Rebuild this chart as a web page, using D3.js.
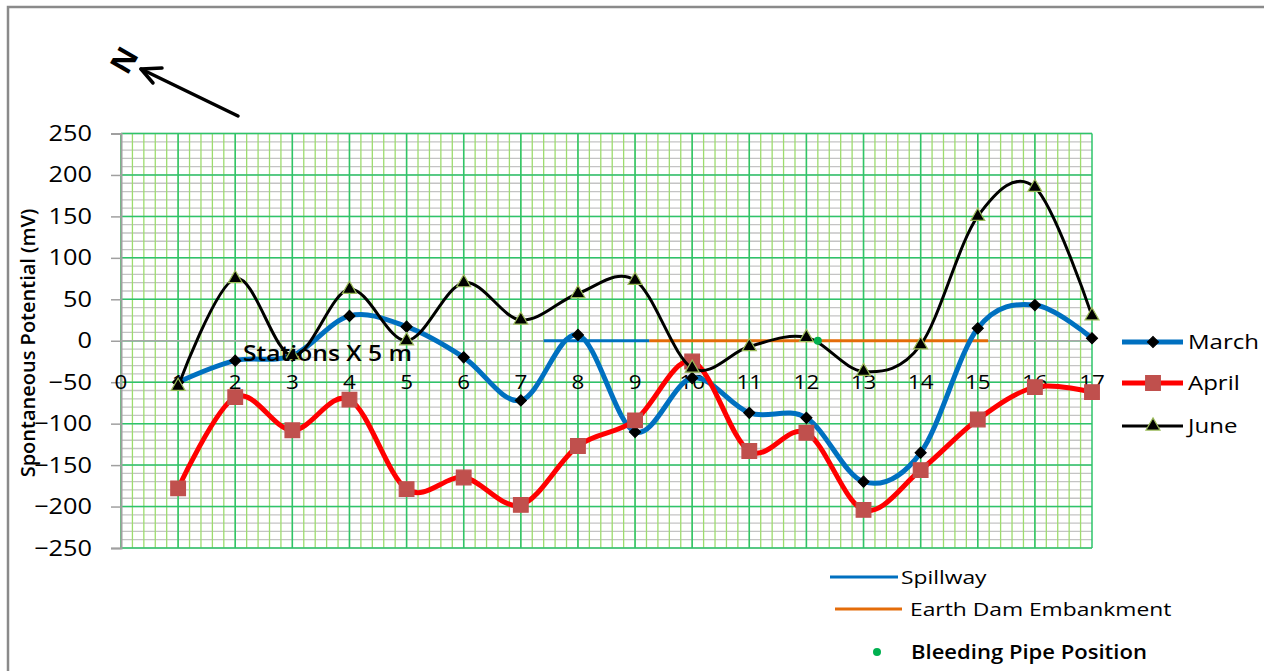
<!DOCTYPE html>
<html>
<head>
<meta charset="utf-8">
<script src="https://cdn.jsdelivr.net/npm/d3@7"></script>
<style>
  body { margin: 0; background: #fff; }
  text { font-family: "Open Sans", sans-serif; fill: #000; }
</style>
</head>
<body>
<svg width="1264" height="671"></svg>
<script>
// station numbers along the profile (x 5 m)
var stations = [1, 2, 3, 4, 5, 6, 7, 8, 9, 10, 11, 12, 13, 14, 15, 16, 17];
var xTicks = [0, 1, 2, 3, 4, 5, 6, 7, 8, 9, 10, 11, 12, 13, 14, 15, 16, 17];
var yTicks = [250, 200, 150, 100, 50, 0, -50, -100, -150, -200, -250];

// SP readings (mV)
var march = [-50, -24, -18, 30, 17, -20, -72, 7, -110, -45, -87, -93, -170, -135, 15, 43, 3];
var april = [-178, -68, -108, -71, -179, -165, -198, -127, -96, -25, -133, -111, -204, -156, -95, -56, -62];
var june  = [-55, 75, -18, 62, 0, 70, 25, 57, 73, -33, -7, 4, -37, -5, 150, 185, 30];

// structures along the line
var spillway = [7.4, 9.25];
var embankment = [9.25, 15.18];
var bleedingPipe = [12.2];

var svg = d3.select("svg");

// stretch text horizontally like the original (resized) picture
function stretch(sel, k) {
    sel.each(function() {
        var w = this.getComputedTextLength();
        d3.select(this).attr("textLength", w * k).attr("lengthAdjust", "spacingAndGlyphs");
    });
}

// outer frame
svg.append("rect")
    .attr("x", 8).attr("y", 7)
    .attr("width", 1400).attr("height", 800)
    .attr("fill", "none")
    .attr("stroke", "#8a8a8a")
    .attr("stroke-width", 2.5);

var x = d3.scaleLinear().domain([0, 17]).range([121, 1092]);
var y = d3.scaleLinear().domain([-250, 250]).range([548, 133.5]);

var grid = svg.append("g");

// minor horizontal (gray, every 10)
grid.append("g").selectAll("line")
    .data(d3.range(-250, 251, 10))
    .enter().append("line")
    .attr("x1", x(0)).attr("x2", x(17))
    .attr("y1", function(d) { return y(d); })
    .attr("y2", function(d) { return y(d); })
    .attr("stroke", "#c4c4c4").attr("stroke-width", 1.3);

// minor vertical (light green, every 0.2)
grid.append("g").selectAll("line")
    .data(d3.range(0, 85).map(function(i) { return i / 5; }))
    .enter().append("line")
    .attr("x1", function(d) { return x(d); })
    .attr("x2", function(d) { return x(d); })
    .attr("y1", y(250)).attr("y2", y(-250))
    .attr("stroke", "#9ddc6e").attr("stroke-width", 1.3);

// major horizontal
grid.append("g").selectAll("line")
    .data(yTicks)
    .enter().append("line")
    .attr("x1", x(0)).attr("x2", x(17))
    .attr("y1", function(d) { return y(d); })
    .attr("y2", function(d) { return y(d); })
    .attr("stroke", "#2ec46a").attr("stroke-width", 1.5);

// major vertical
grid.append("g").selectAll("line")
    .data(xTicks)
    .enter().append("line")
    .attr("x1", function(d) { return x(d); })
    .attr("x2", function(d) { return x(d); })
    .attr("y1", y(250)).attr("y2", y(-250))
    .attr("stroke", "#2ec46a").attr("stroke-width", 1.5);

// y axis
var yAxis = svg.append("g")
    .attr("transform", "translate(" + x(0) + ",0)")
    .call(d3.axisLeft(y).tickValues(yTicks).tickSize(10).tickPadding(8));
yAxis.select(".domain").attr("stroke", "#a0a0a0").attr("stroke-width", 2);
yAxis.selectAll(".tick line").attr("stroke", "#a0a0a0").attr("stroke-width", 1.5);
yAxis.selectAll(".tick text")
    .attr("x", 92 - x(0))
    .style("font-size", "22px")
    .style("font-family", "Open Sans, sans-serif")
    .attr("fill", "#000");
stretch(yAxis.selectAll(".tick text"), 1.15);

// x axis line at 0 (gray)
svg.append("line")
    .attr("x1", x(0)).attr("x2", x(17))
    .attr("y1", y(0)).attr("y2", y(0))
    .attr("stroke", "#a8a8a8").attr("stroke-width", 1.5);

// x tick labels
var xl = svg.append("g").selectAll("text")
    .data(xTicks)
    .enter().append("text")
    .attr("x", function(d) { return x(d); })
    .attr("y", y(-50))
    .attr("dy", "0.36em")
    .attr("text-anchor", "middle")
    .style("font-size", "20px")
    .text(function(d) { return d; });
stretch(xl, 1.12);

// structures
svg.append("line")
    .attr("x1", x(spillway[0])).attr("x2", x(spillway[1]))
    .attr("y1", y(0)).attr("y2", y(0))
    .attr("stroke", "#0070c0").attr("stroke-width", 3);
svg.append("line")
    .attr("x1", x(embankment[0])).attr("x2", x(embankment[1]))
    .attr("y1", y(0)).attr("y2", y(0))
    .attr("stroke", "#e46c0a").attr("stroke-width", 3);

// series
var series = [
    { name: "March", values: march, color: "#0070c0", width: 5, marker: d3.symbolSquare, size: 60, rot: 45, fill: "#000", stroke: "#000" },
    { name: "April", values: april, color: "#ff0000", width: 5, marker: d3.symbolSquare, size: 215, rot: 0, fill: "#c0504d", stroke: "#c0504d" },
    { name: "June",  values: june,  color: "#000000", width: 3, marker: d3.symbolTriangle, size: 85, rot: 0, fill: "#000", stroke: "#9bbb59" }
];

var line = d3.line()
    .x(function(d) { return x(d[0]); })
    .y(function(d) { return y(d[1]); })
    .curve(d3.curveCardinal.tension(0));

series.forEach(function(s) {
    var pts = stations.map(function(st, i) { return [st, s.values[i]]; });
    var g = svg.append("g");
    g.append("path")
        .attr("d", line(pts))
        .attr("fill", "none")
        .attr("stroke", s.color)
        .attr("stroke-width", s.width);
    g.selectAll("path.mk")
        .data(pts)
        .enter().append("path")
        .attr("class", "mk")
        .attr("d", d3.symbol().type(s.marker).size(s.size))
        .attr("transform", function(d) { return "translate(" + x(d[0]) + "," + y(d[1]) + ") rotate(" + s.rot + ")"; })
        .attr("fill", s.fill)
        .attr("stroke", s.stroke)
        .attr("stroke-width", 1.2);
});

// bleeding pipe
svg.selectAll("circle.pipe")
    .data(bleedingPipe)
    .enter().append("circle")
    .attr("class", "pipe")
    .attr("cx", function(d) { return x(d); })
    .attr("cy", y(0))
    .attr("r", 4)
    .attr("fill", "#00b050");

// axis titles
svg.append("text")
    .attr("transform", "translate(35," + 343 + ") rotate(-90)")
    .attr("text-anchor", "middle")
    .style("font-size", "20px")
    .style("font-weight", "600")
    .text("Spontaneous Potential (mV)");

stretch(svg.append("text")
    .attr("x", 243).attr("y", 361)
    .style("font-size", "22px")
    .style("font-weight", "600")
    .text("Stations X 5 m"), 1.12);

// north arrow
svg.append("line")
    .attr("x1", 238).attr("y1", 116)
    .attr("x2", 141).attr("y2", 69)
    .attr("stroke", "#000").attr("stroke-width", 3.5)
    .attr("stroke-linecap", "round");
svg.append("path")
    .attr("d", "M162,68 L141,69 L153,83")
    .attr("fill", "none")
    .attr("stroke", "#000").attr("stroke-width", 3.5)
    .attr("stroke-linecap", "round")
    .attr("stroke-linejoin", "round");
svg.append("text")
    .attr("transform", "translate(124,60) rotate(-60)")
    .attr("text-anchor", "middle")
    .attr("dy", "0.36em")
    .style("font-size", "30px")
    .style("font-weight", "bold")
    .text("N");

// right legend
var leg = svg.append("g");
series.forEach(function(s, i) {
    var ly = [342, 383, 426][i];
    leg.append("line")
        .attr("x1", 1122).attr("x2", 1183)
        .attr("y1", ly).attr("y2", ly)
        .attr("stroke", s.color).attr("stroke-width", s.width);
    leg.append("path")
        .attr("d", d3.symbol().type(s.marker).size(s.size))
        .attr("transform", "translate(1153," + ly + ") rotate(" + s.rot + ")")
        .attr("fill", s.fill).attr("stroke", s.stroke).attr("stroke-width", 1.2);
    var t = leg.append("text")
        .attr("x", 1188).attr("y", ly)
        .attr("dy", "0.36em")
        .style("font-size", "20px")
        .text(s.name);
    stretch(t, 1.2);
});

// bottom legend
var bl = svg.append("g");
bl.append("line").attr("x1", 830).attr("x2", 898).attr("y1", 577).attr("y2", 577)
    .attr("stroke", "#0070c0").attr("stroke-width", 3);
stretch(bl.append("text").attr("x", 901).attr("y", 577).attr("dy", "0.36em")
    .style("font-size", "19px").text("Spillway"), 1.2);
bl.append("line").attr("x1", 835).attr("x2", 902).attr("y1", 609).attr("y2", 609)
    .attr("stroke", "#e46c0a").attr("stroke-width", 3);
stretch(bl.append("text").attr("x", 910).attr("y", 609).attr("dy", "0.36em")
    .style("font-size", "19px").text("Earth Dam Embankment"), 1.2);
bl.append("circle").attr("cx", 877).attr("cy", 652).attr("r", 4).attr("fill", "#00b050");
stretch(bl.append("text").attr("x", 911).attr("y", 652).attr("dy", "0.36em")
    .style("font-size", "19px").style("font-weight", "600").text("Bleeding Pipe Position"), 1.16);
</script>
</body>
</html>
